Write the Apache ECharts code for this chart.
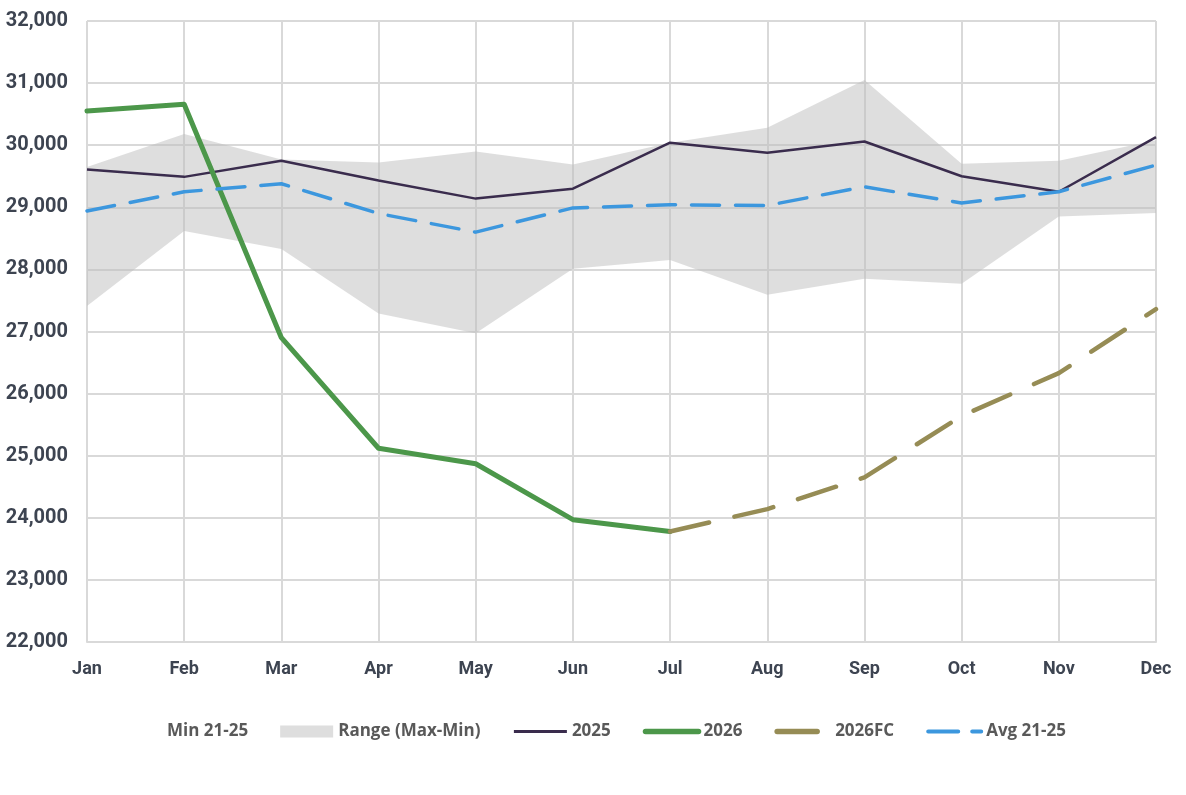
<!DOCTYPE html>
<html>
<head>
<meta charset="utf-8">
<script src="https://cdn.jsdelivr.net/npm/echarts@6/dist/echarts.min.js"></script>
<style>
  html, body { margin: 0; padding: 0; background: #fff; }
  #chart { width: 1186px; height: 795px; }
</style>
</head>
<body>
<div id="chart"></div>
<script>
// data
const months = ['Jan', 'Feb', 'Mar', 'Apr', 'May', 'Jun', 'Jul', 'Aug', 'Sep', 'Oct', 'Nov', 'Dec']
const min2125 = [27410, 28620, 28330, 27290, 26970, 28010, 28150, 27590, 27850, 27770, 28850, 28910]
const max2125 = [29650, 30180, 29770, 29720, 29900, 29690, 30040, 30280, 31050, 29700, 29750, 30080]
const avg2125 = [28940, 29250, 29380, 28900, 28600, 28990, 29040, 29030, 29330, 29070, 29250, 29680]
const y2025 = [29610, 29490, 29750, 29430, 29140, 29300, 30040, 29880, 30060, 29500, 29250, 30130]
const y2026 = [30550, 30660, 26900, 25120, 24870, 23970, 23780, null, null, null, null, null]
const y2026fc = [null, null, null, null, null, null, 23780, 24140, 24650, 25640, 26330, 27360]

const yTicks = { min: 22000, max: 32000, step: 1000 }

// range band = max - min, stacked on min
const rangeVals = max2125.map((v, i) => v - min2125[i])

const labelColor = '#3d4451'
const gridColor = '#d9d9d9'
const bandColor = 'rgba(190,190,190,0.51)'

let myChart = echarts.init(document.getElementById('chart'))
let option = {
  backgroundColor: '#fff',
  animation: false,
  grid: { left: 87, right: 30, top: 21, bottom: 153 },
  legend: {
    top: 718,
    left: 104,
    itemWidth: 53,
    itemHeight: 12,
    itemGap: 32,
    // hide the symbol drawn over the line icons
    itemStyle: { opacity: 0 },
    textStyle: { color: '#595959', fontFamily: 'Open Sans', fontWeight: 'bold', fontSize: 17 },
    data: [
      { name: 'Min 21-25' },
      { name: 'Range (Max-Min)', icon: 'rect', itemStyle: { opacity: 1, color: bandColor } },
      { name: '2025', lineStyle: { width: 3 } },
      { name: '2026', lineStyle: { width: 5.5, cap: 'round' } },
      { name: '2026FC', lineStyle: { width: 5.5, cap: 'round' } },
      { name: 'Avg 21-25', lineStyle: { width: 4, type: [30, 14], cap: 'round' } }
    ]
  },
  xAxis: {
    type: 'category',
    data: months,
    boundaryGap: false,
    axisLine: { lineStyle: { color: gridColor, width: 2 } },
    axisTick: { show: false },
    splitLine: { show: true, lineStyle: { color: gridColor, width: 2 } },
    axisLabel: { color: labelColor, fontFamily: 'Roboto', fontWeight: 'bold', fontSize: 18, margin: 18 }
  },
  yAxis: {
    type: 'value',
    min: yTicks.min,
    max: yTicks.max,
    interval: yTicks.step,
    axisLine: { show: false },
    axisTick: { show: false },
    splitLine: { lineStyle: { color: gridColor, width: 2 } },
    axisLabel: {
      color: labelColor, fontFamily: 'Roboto', fontWeight: 'bold', fontSize: 20, margin: 19,
      formatter: v => v.toLocaleString('en-US')
    }
  },
  series: [
    {
      name: 'Min 21-25',
      type: 'line',
      stack: 'band',
      data: min2125,
      symbol: 'none',
      lineStyle: { width: 0, opacity: 0 },
      itemStyle: { color: 'transparent' },
      silent: true
    },
    {
      name: 'Range (Max-Min)',
      type: 'line',
      stack: 'band',
      data: rangeVals,
      symbol: 'none',
      lineStyle: { width: 0, opacity: 0 },
      itemStyle: { color: bandColor },
      areaStyle: { color: bandColor, opacity: 1 },
      silent: true
    },
    {
      name: '2025',
      type: 'line',
      data: y2025,
      symbol: 'none',
      itemStyle: { color: '#3a2c4d' },
      lineStyle: { color: '#3a2c4d', width: 2.5 }
    },
    {
      name: '2026',
      type: 'line',
      data: y2026,
      symbol: 'none',
      itemStyle: { color: '#4c974a' },
      lineStyle: { color: '#4c974a', width: 5, cap: 'round', join: 'round' }
    },
    {
      name: '2026FC',
      type: 'line',
      data: y2026fc,
      symbol: 'none',
      itemStyle: { color: '#968c55' },
      lineStyle: { color: '#968c55', width: 4.5, type: [40, 26], cap: 'round', join: 'round' }
    },
    {
      name: 'Avg 21-25',
      type: 'line',
      data: avg2125,
      symbol: 'none',
      itemStyle: { color: '#3c97de' },
      lineStyle: { color: '#3c97de', width: 3.5, type: [28, 16], cap: 'round', join: 'round' }
    }
  ]
}
myChart.setOption(option)
</script>
</body>
</html>
